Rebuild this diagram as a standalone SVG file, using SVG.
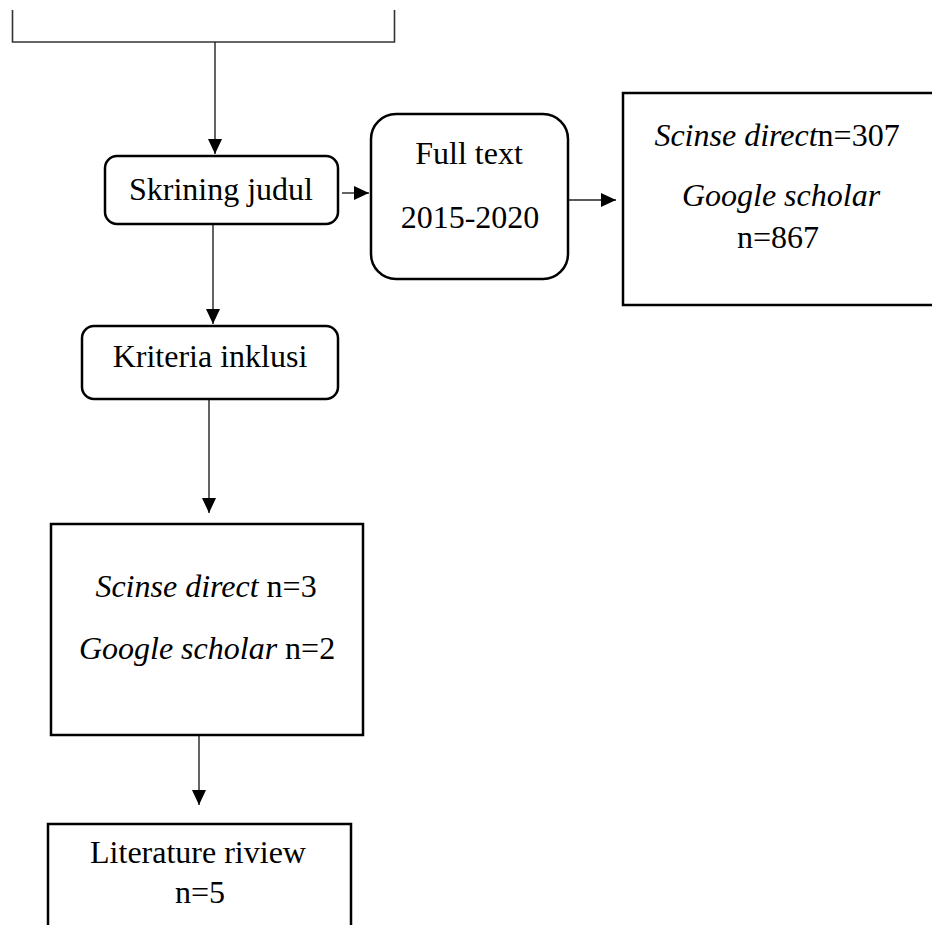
<svg xmlns="http://www.w3.org/2000/svg" width="932" height="925" viewBox="0 0 932 925">
<style>
.box{fill:#fff;stroke:#000;stroke-width:2.5}
.edge{fill:none;stroke:#222;stroke-width:1.4}
.t{font-family:"Liberation Serif","Times New Roman",serif;font-size:32px;fill:#000;text-anchor:middle}
.i{font-style:italic}
</style>
<defs>
<marker id="ah" viewBox="0 0 15 14" refX="15" refY="7" markerWidth="15" markerHeight="14" markerUnits="userSpaceOnUse" orient="auto">
<path d="M0,0 L15,7 L0,14 z" fill="#000"/>
</marker>
</defs>
<rect width="932" height="925" fill="#fff"/>
<g id="top-box">
<path d="M12.5,10 V42 H394.5 V10" fill="none" stroke="#333" stroke-width="1.6"/>
</g>
<g id="connectors">
<path class="edge" d="M215,42 V154" marker-end="url(#ah)"/>
<path class="edge" d="M213,225 V324" marker-end="url(#ah)"/>
<path class="edge" d="M209,400 V513" marker-end="url(#ah)"/>
<path class="edge" d="M199,736 V805" marker-end="url(#ah)"/>
<path class="edge" d="M342,193 H369" marker-end="url(#ah)"/>
<path class="edge" d="M569,200 H616" marker-end="url(#ah)"/>
</g>
<g id="skrining">
<rect class="box" x="105" y="156" width="233" height="68" rx="12"/>
<text class="t" x="221" y="200">Skrining judul</text>
</g>
<g id="fulltext">
<rect class="box" x="371" y="114" width="197" height="165" rx="25"/>
<text class="t" x="469" y="164">Full text</text>
<text class="t" x="470" y="228">2015-2020</text>
</g>
<g id="sources">
<rect class="box" x="623" y="93" width="320" height="212"/>
<text class="t" x="777" y="146"><tspan class="i">Scinse direct</tspan>n=307</text>
<text class="t i" x="781" y="206">Google scholar</text>
<text class="t" x="778" y="248">n=867</text>
</g>
<g id="kriteria">
<rect class="box" x="82" y="326" width="256" height="73" rx="12"/>
<text class="t" x="210" y="367">Kriteria inklusi</text>
</g>
<g id="hasil">
<rect class="box" x="51" y="524" width="312" height="211"/>
<text class="t" x="206" y="597"><tspan class="i">Scinse direct</tspan> n=3</text>
<text class="t" x="207" y="659"><tspan class="i">Google scholar</tspan> n=2</text>
</g>
<g id="literature">
<rect class="box" x="48" y="824" width="303" height="120"/>
<text class="t" x="198" y="863">Literature riview</text>
<text class="t" x="200" y="903">n=5</text>
</g>
</svg>
